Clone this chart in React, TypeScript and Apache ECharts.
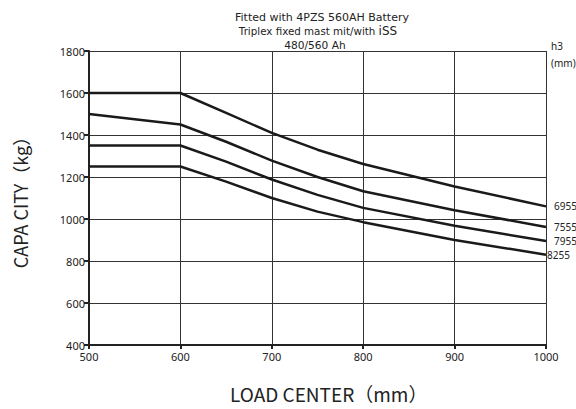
import React, { useEffect, useRef } from "react";
import * as echarts from "echarts";

const loadCenters = [500, 600, 650, 700, 750, 800, 900, 1000];
const cap6955 = [1600, 1600, 1505, 1410, 1330, 1262, 1155, 1060];
const cap7555 = [1500, 1450, 1368, 1278, 1200, 1132, 1042, 962];
const cap7955 = [1350, 1350, 1273, 1188, 1115, 1053, 968, 895];
const cap8255 = [1250, 1250, 1178, 1100, 1035, 985, 900, 830];
const seriesNames = ["6955", "7555", "7955", "8255"];
const titleLines = ["Fitted with 4PZS 560AH Battery", "Triplex fixed mast mit/with ", "iSS", "480/560 Ah"];

const FONT = "'Noto Sans', sans-serif";
const TFONT = "'DejaVu Sans', sans-serif";
const CJK = "'Noto Sans CJK SC', sans-serif";

export default function App() {
  const ref = useRef<HTMLDivElement>(null);
  useEffect(() => {
    if (!ref.current) return;
    document.body.style.overflow = "hidden";
    const chart = echarts.init(ref.current, undefined, { renderer: "svg" });
    const all = [cap6955, cap7555, cap7955, cap8255];
    const labelOffsets = [[8, 0], [8, 0], [8, 0], [1, 0]];
    chart.setOption({
      animation: false,
      textStyle: { fontFamily: FONT },
      graphic: [
        {
          type: "text", x: 322, y: 17,
          style: { text: titleLines[0], fontSize: 11, fill: "#222", fontFamily: TFONT, align: "center", verticalAlign: "middle" },
        },
        {
          type: "text", x: 318, y: 31,
          style: {
            text: `${titleLines[1]}{b|${titleLines[2]}}`,
            fontSize: 10.3, fill: "#222", fontFamily: TFONT, align: "center", verticalAlign: "middle",
            rich: { b: { fontSize: 12, fill: "#222", fontFamily: TFONT } },
          },
        },
        {
          type: "text", x: 315, y: 45,
          style: { text: titleLines[3], fontSize: 10.6, fill: "#222", fontFamily: TFONT, align: "center", verticalAlign: "middle" },
        },
        { type: "text", left: 551, top: 41, style: { text: "h3", fontSize: 10, fill: "#222", fontFamily: FONT } },
        { type: "text", left: 551, top: 58, style: { text: "(mm)", fontSize: 10, fill: "#222", fontFamily: FONT } },
        { type: "text", left: 230, top: 384, style: { text: "LOAD CENTER（mm）", fontSize: 19, fill: "#222", fontFamily: CJK } },
      ],
      grid: { left: 89, right: 30, top: 51, bottom: 64, containLabel: false },
      xAxis: {
        type: "value",
        min: 500,
        max: 1000,
        interval: 100,
        axisLine: { lineStyle: { color: "#222", width: 2 } },
        axisTick: { show: true, length: 4, lineStyle: { color: "#222", width: 2 } },
        axisLabel: { fontSize: 11, color: "#222", margin: 6, fontFamily: FONT, formatter: (v: number) => String(v) },
        splitLine: { show: true, lineStyle: { color: "#333", width: 1 } },
      },
      yAxis: {
        type: "value",
        min: 400,
        max: 1800,
        interval: 200,
        name: "CAPA CITY（kg）",
        nameLocation: "middle",
        nameGap: 60,
        nameTextStyle: { fontSize: 18, color: "#222", fontFamily: CJK },
        axisLine: { show: true, lineStyle: { color: "#222", width: 2 } },
        axisTick: { show: true, length: 5, lineStyle: { color: "#222", width: 2 } },
        axisLabel: { fontSize: 11, color: "#222", margin: 4, fontFamily: FONT, formatter: (v: number) => String(v) },
        splitLine: { show: true, lineStyle: { color: "#333", width: 1 } },
      },
      series: all.map((vals, i) => ({
        type: "line",
        name: seriesNames[i],
        data: loadCenters.map((x, j) => [x, vals[j]]),
        showSymbol: false,
        smooth: false,
        lineStyle: { color: "#1a1a1a", width: 2.5 },
        endLabel: {
          show: true,
          formatter: seriesNames[i],
          fontSize: 10,
          color: "#222",
          distance: 0,
          offset: labelOffsets[i],
          fontFamily: FONT,
        },
      })),
    });
    return () => chart.dispose();
  }, []);
  return <div ref={ref} style={{ position: "absolute", left: 0, top: 0, width: 576, height: 409 }} />;
}
